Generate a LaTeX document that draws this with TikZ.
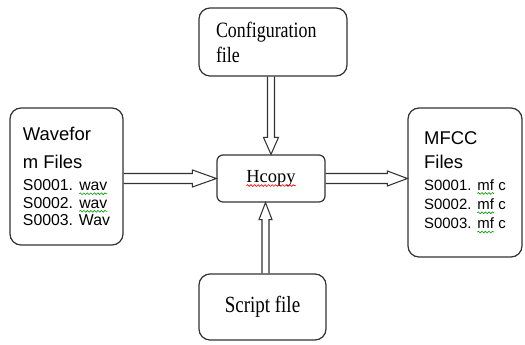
\documentclass[tikz,border=0pt]{standalone}
\usepackage{fontspec}
\setmainfont{Liberation Serif}
\newfontfamily\arialfont{Liberation Sans}
\usetikzlibrary{calc,decorations.pathmorphing}

\tikzset{
  squig/.style={line width=0.35pt, rounded corners=0pt, decorate, decoration={snake, amplitude=0.5pt, segment length=2pt}},
  box/.style={draw=black!80, line width=0.7pt, rounded corners=0.22cm, inner sep=0pt, align=left},
  hollow/.style n args={3}{draw=black!80, line width=0.6pt, to path={
    ($(\tikztostart)!#1!90:(\tikztotarget)$)
    -- ($(\tikztotarget)!#3!(\tikztostart)!#1!90:(\tikztotarget)$)
    -- ($(\tikztotarget)!#3!(\tikztostart)!#2!90:(\tikztotarget)$)
    -- (\tikztotarget)
    -- ($(\tikztotarget)!#3!(\tikztostart)!#2!-90:(\tikztotarget)$)
    -- ($(\tikztotarget)!#3!(\tikztostart)!#1!-90:(\tikztotarget)$)
    -- ($(\tikztostart)!#1!-90:(\tikztotarget)$)}}
}

% word with a spell-check wave under it
\newcommand{\squig}[2]{\tikz[baseline=(w.base)]{\node[draw=none, inner sep=0pt, outer sep=0pt, minimum width=0pt, minimum height=0pt] (w) {#2};
  \draw[squig, #1] ([yshift=-1.8pt]w.base west) -- ([yshift=-1.8pt]w.base east);}}
% serif text is drawn a little taller than wide
\newcommand{\tall}[1]{\scalebox{1}[1.22]{#1}}

\begin{document}
\begin{tikzpicture}[x=0.02cm, y=-0.02cm]
\useasboundingbox (0,0) rectangle (525,345);

% boxes
\node[box, minimum width=2.96cm, minimum height=1.36cm, text width=2.28cm, font=\fontsize{10.2}{14.2}\selectfont] (config) at (273,42) {\tall{Configuration}\\\tall{file}};
\node[box, rounded corners=0.12cm, minimum width=2.16cm, minimum height=0.94cm, font=\fontsize{10.5}{13}\selectfont] (hcopy) at (271,178.5) {\squig{red}{Hcopy}};
\node[box, minimum width=2.26cm, minimum height=2.74cm, font=\arialfont\fontsize{9}{10}\selectfont] (wave) at (66.5,176.5)
  {{\fontsize{10.5}{10}\selectfont Wavefor}\\[6pt]{\fontsize{10.5}{10}\selectfont m Files}\\[2.5pt]S0001. \squig{green!60!black}{wav}\\S0002. \squig{green!60!black}{wav}\\S0003. Wav};
\node[box, minimum width=2.28cm, minimum height=2.98cm, font=\arialfont\fontsize{8.5}{10}\selectfont] (mfcc) at (465,182.5)
  {{\fontsize{10.5}{10}\selectfont MFCC}\\[3.5pt]{\fontsize{10.5}{10}\selectfont Files}\\[2.5pt]S0001. \squig{green!60!black}{mf} c\\[1pt]S0002. \squig{green!60!black}{mf} c\\[1pt]S0003. \squig{green!60!black}{mf} c};
\node[box, minimum width=2.54cm, minimum height=1.32cm, font=\fontsize{10.8}{12}\selectfont] (script) at (262.5,307) {\tall{Script file}};

% arrows
\coordinate (sTop) at ([xshift=0.06cm]script.north);
\draw[hollow={0.1cm}{0.17cm}{0.48cm}] (wave.east |- hcopy.west) to (hcopy.west);
\draw[hollow={0.1cm}{0.15cm}{0.4cm}] (hcopy.east) to (hcopy.east -| mfcc.west);
\draw[hollow={0.07cm}{0.15cm}{0.34cm}] (config.south -| hcopy.north) to (hcopy.north);
\draw[hollow={0.07cm}{0.13cm}{0.34cm}] (sTop) to (sTop |- hcopy.south);
\end{tikzpicture}
\end{document}
